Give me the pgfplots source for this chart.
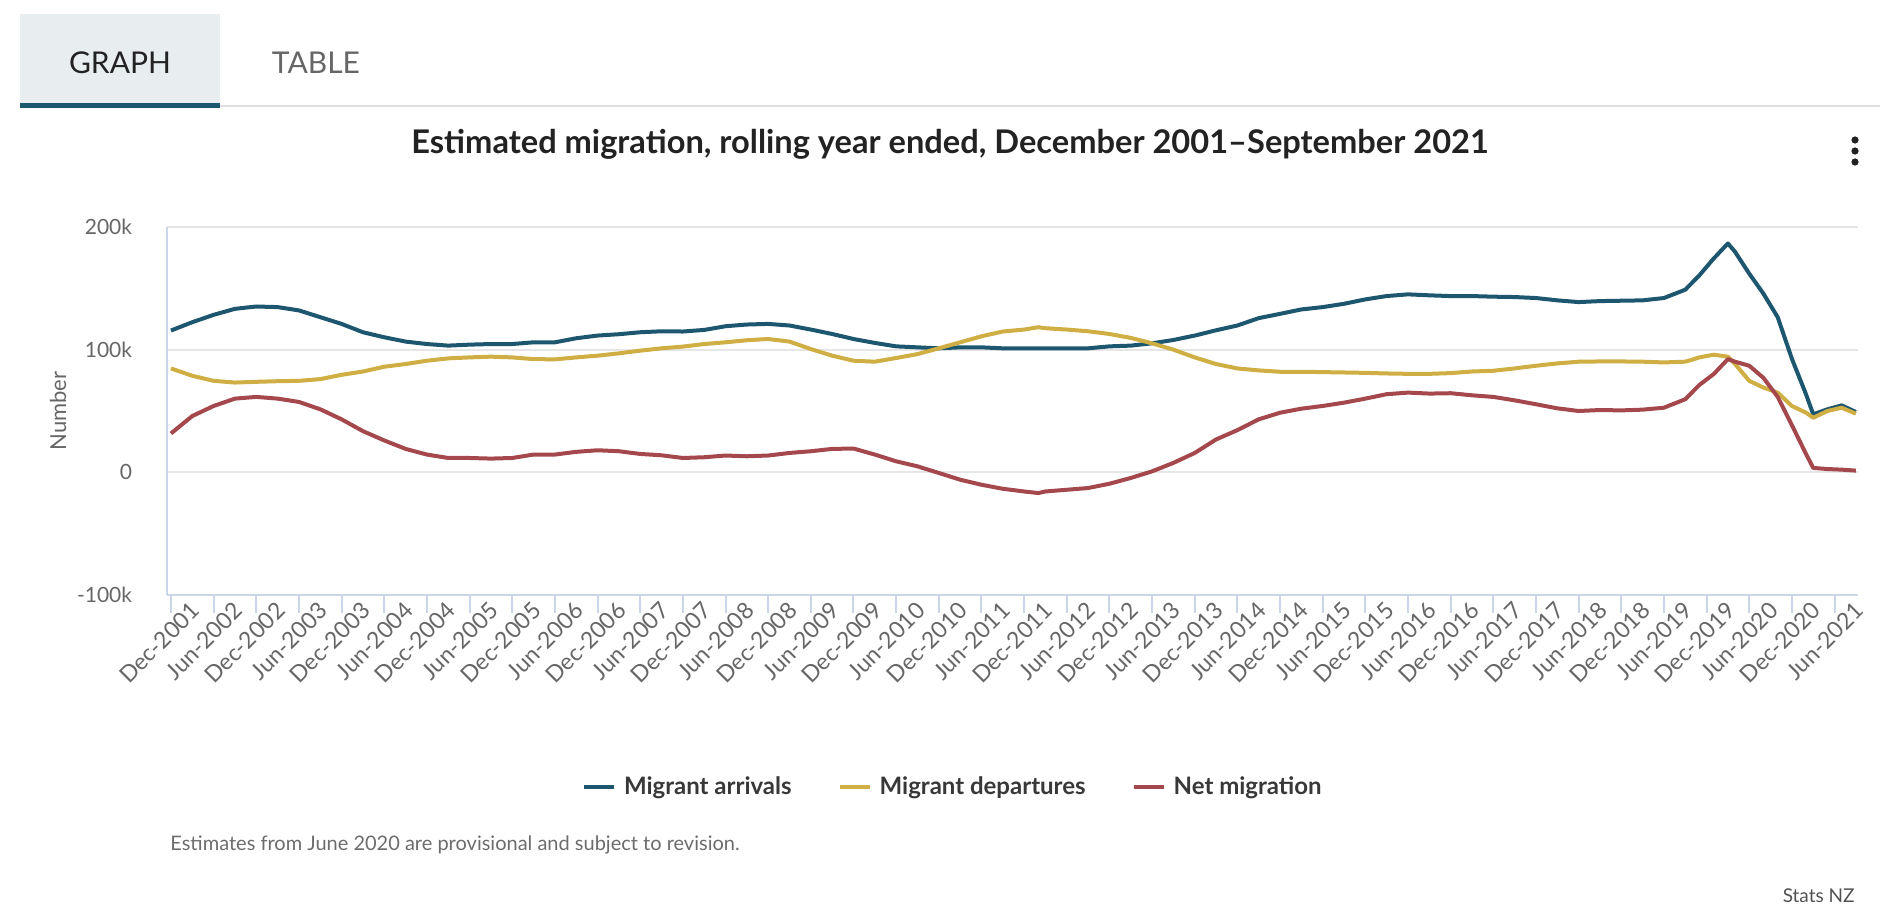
\documentclass[border=0pt]{standalone}
\usepackage{pgfplots}
\pgfplotsset{compat=1.18}
\usepackage{pgfplotstable}
\usepackage{fontspec}
\setmainfont{Lato}
\definecolor{arrc}{HTML}{1D576F}
\definecolor{depc}{HTML}{CFAE44}
\definecolor{netc}{HTML}{A4484D}
\definecolor{gridc}{HTML}{E6E6E6}
\definecolor{axisc}{HTML}{CCD6EB}
\definecolor{labc}{HTML}{666666}
\definecolor{tabbg}{HTML}{E8EDF0}
\definecolor{titc}{HTML}{222222}

\pgfplotstableread{
m arr dep net
0 115.6 84.7 31.7
3 122.4 78.7 45.9
6 128.4 74.6 54.1
9 133.3 73.2 60.1
12 135.2 73.8 61.5
15 134.7 74.3 60.1
18 132.0 74.6 57.4
21 126.5 76.0 51.4
24 121.0 79.5 43.2
27 114.2 82.2 33.6
30 110.1 86.1 26.0
33 106.6 88.3 19.1
36 104.6 91.0 14.5
39 103.3 92.9 11.7
42 104.1 93.7 11.7
45 104.6 94.3 11.2
48 104.6 93.7 11.7
51 106.0 92.3 14.5
54 106.0 92.1 14.5
57 109.3 93.7 16.7
60 111.5 95.1 18.0
63 112.6 97.0 17.2
66 114.2 99.2 15.0
69 115.0 101.1 13.9
72 114.8 102.5 11.7
75 116.1 104.6 12.3
78 119.1 106.0 13.7
81 120.5 107.7 13.1
84 121.0 108.7 13.7
87 119.7 106.6 15.8
90 116.4 100.5 17.2
93 112.8 95.1 19.1
96 108.7 91.0 19.4
99 105.5 90.2 14.5
102 102.7 93.2 9.0
105 101.9 96.4 4.9
108 101.1 101.1 -0.5
111 101.9 106.0 -6.0
114 101.9 110.9 -10.1
117 101.1 114.8 -13.4
120 101.1 116.4 -15.6
122 101.0 118.3 -16.9
123 101.1 117.5 -15.6
126 101.1 116.4 -14.2
129 101.1 115.0 -12.8
132 102.7 112.8 -9.3
135 103.3 109.6 -4.6
138 105.2 105.2 0.8
141 107.9 100.0 7.7
144 111.5 93.7 15.8
147 115.8 88.3 26.8
150 119.7 84.7 34.4
153 125.7 83.1 43.2
156 129.2 82.0 48.6
159 132.8 82.0 51.9
162 134.7 81.7 54.1
165 137.4 81.4 56.8
168 141.0 81.1 60.1
171 143.7 80.6 63.7
174 145.1 80.3 65.0
177 144.3 80.3 64.2
180 143.7 80.9 64.5
183 143.7 82.2 62.8
186 143.2 82.8 61.5
189 142.9 84.7 58.7
192 142.1 86.9 55.5
195 140.2 88.8 52.2
198 138.8 90.2 50.0
201 139.6 90.4 50.8
204 139.9 90.4 50.5
207 140.2 90.2 51.1
210 142.1 89.6 52.7
213 148.9 90.2 59.6
215 160.7 93.7 71.3
217 174.3 95.9 80.1
219 186.6 94.3 92.3
220 179.8 88.3 90.2
222 162.0 74.6 86.9
224 145.6 69.1 77.0
226 126.5 65.0 61.5
228 92.6 54.1 38.5
230 63.4 48.6 14.8
231 47.3 44.5 3.6
233 51.4 50.0 2.7
235 54.6 52.7 2.2
237 49.2 47.8 1.4
}\migdata

\begin{document}
\begin{tikzpicture}
\useasboundingbox (0,0) rectangle (940pt,459pt);
\begin{scope}[x=0.5pt,y=-0.5pt,shift={(0pt,459pt)}]
  % tabs
  \fill[tabbg] (20,14) rectangle (220,106);
  \fill[gray!25] (220,105.5) rectangle (1880,107.5);
  \fill[arrc] (20,103) rectangle (220,108);
  \node[font=\fontsize{15pt}{18pt}\selectfont, text=titc] at (120,63) {GRAPH};
  \node[font=\fontsize{15pt}{18pt}\selectfont, text=labc] at (316,63) {TABLE};
  % title
  \node[font=\fontsize{16.3pt}{19pt}\selectfont\bfseries, text=titc] at (950,144) {Estimated migration, rolling year ended, December 2001--September 2021};
  % menu dots
  \foreach \yy in {140,151,162} \fill[titc] (1855,\yy) circle (3.6);
  % y label
  \node[rotate=90, font=\fontsize{11pt}{13pt}\selectfont, text=labc] at (58,411) {Number};
  % footnotes
  \node[anchor=west, inner sep=0pt, font=\fontsize{10pt}{12pt}\selectfont, text=gray!85!black] at (170,845) {Estimates from June 2020 are provisional and subject to revision.};
  \node[anchor=east, inner sep=0pt, font=\fontsize{9.5pt}{11pt}\selectfont, text=labc!80!black] at (1855,896) {Stats NZ};
\end{scope}
\begin{axis}[
  at={(83.5pt,161.5pt)}, anchor=south west,
  scale only axis, width=845.5pt, height=184pt,
  xmin=-0.56, xmax=237.3, ymin=-100, ymax=200,
  axis x line*=bottom, axis y line*=left,
  axis line style={-, draw=axisc, line width=1pt},
  ymajorgrids, grid style={draw=gridc, line width=1pt},
  xtick={0,6,...,234},
  xticklabels={Dec-2001,Jun-2002,Dec-2002,Jun-2003,Dec-2003,Jun-2004,Dec-2004,Jun-2005,Dec-2005,Jun-2006,Dec-2006,Jun-2007,Dec-2007,Jun-2008,Dec-2008,Jun-2009,Dec-2009,Jun-2010,Dec-2010,Jun-2011,Dec-2011,Jun-2012,Dec-2012,Jun-2013,Dec-2013,Jun-2014,Dec-2014,Jun-2015,Dec-2015,Jun-2016,Dec-2016,Jun-2017,Dec-2017,Jun-2018,Dec-2018,Jun-2019,Dec-2019,Jun-2020,Dec-2020,Jun-2021},
  ytick={-100,0,100,200}, yticklabels={-100k,0,100k,200k},
  tick align=outside,
  xtick style={draw=axisc, line width=1pt},
  major x tick style={/pgfplots/major tick length=9pt},
  ytick style={draw=none},
  x tick label style={rotate=45, anchor=east, inner sep=0pt, xshift=7.75pt, yshift=-9.75pt, font=\fontsize{11.5pt}{13pt}\selectfont, text=labc},
  y tick label style={anchor=east, inner sep=0pt, xshift=-13pt, font=\fontsize{10.5pt}{12pt}\selectfont, text=labc},
  legend style={at={(axis description cs:0.4665,-0.5217)}, anchor=center, draw=none, fill=none,
    font=\fontsize{12pt}{14pt}\selectfont\bfseries, text=titc!90!white,
    legend columns=3, /tikz/every even column/.append style={column sep=19pt},
    nodes={inner xsep=4pt}},
  legend image code/.code={\draw[#1, line width=2pt] (0pt,0pt) -- (15pt,0pt);},
  every axis plot/.append style={line width=2pt, line join=round},
]
\addplot[arrc, no marks] table[x=m, y=arr] {\migdata};
\addlegendentry{Migrant arrivals}
\addplot[depc, no marks] table[x=m, y=dep] {\migdata};
\addlegendentry{Migrant departures}
\addplot[netc, no marks] table[x=m, y=net] {\migdata};
\addlegendentry{Net migration}
\end{axis}
\end{tikzpicture}
\end{document}
